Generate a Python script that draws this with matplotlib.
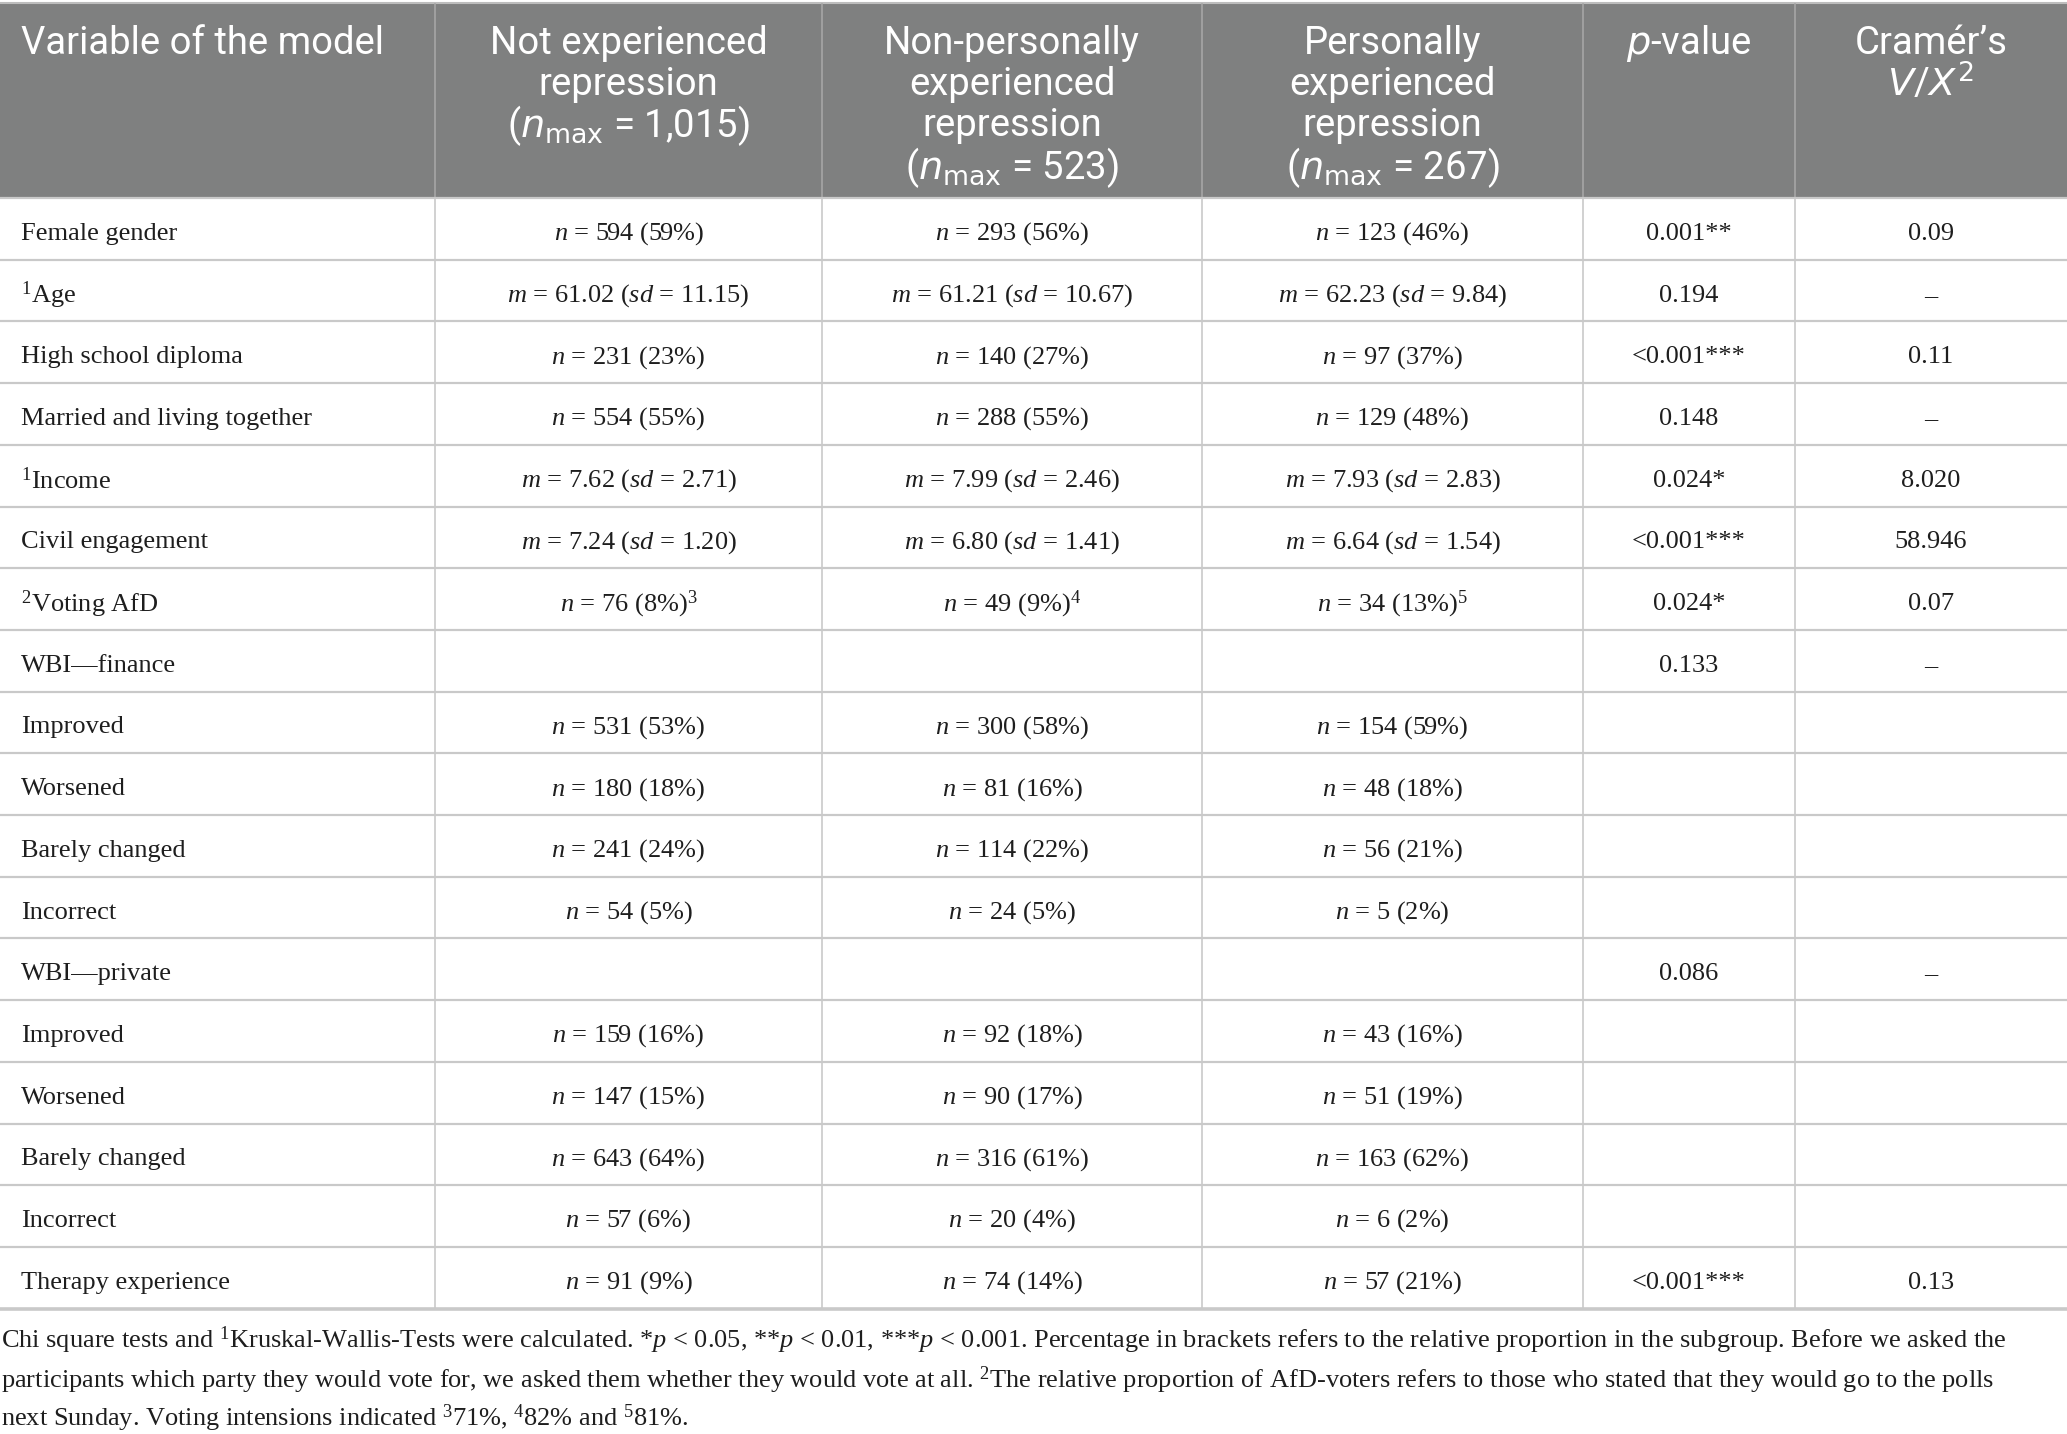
import matplotlib
matplotlib.use("Agg")
import matplotlib.pyplot as plt
from matplotlib.patches import Rectangle

plt.rcParams['mathtext.fontset'] = 'custom'
plt.rcParams['mathtext.rm'] = 'Liberation Serif'
plt.rcParams['mathtext.it'] = 'Liberation Serif:italic'
plt.rcParams['mathtext.bf'] = 'Liberation Serif:bold'

# ---------------- data ----------------
header_col0 = ["Variable of the model"]
header_not = ["Not experienced", "repression", r"($n_{\mathrm{max}}$ = 1,015)"]
header_non = ["Non-personally", "experienced", "repression", r"($n_{\mathrm{max}}$ = 523)"]
header_pers = ["Personally", "experienced", "repression", r"($n_{\mathrm{max}}$ = 267)"]
header_p = [r"$p$-value"]
header_v = ["Cramér’s", r"$V$/$X^{2}$"]

variables = [
    "Female gender", r"$^{1}$Age", "High school diploma", "Married and living together",
    r"$^{1}$Income", "Civil engagement", r"$^{2}$Voting AfD", "WBI—finance",
    "Improved", "Worsened", "Barely changed", "Incorrect",
    "WBI—private", "Improved", "Worsened", "Barely changed", "Incorrect",
    "Therapy experience",
]
not_experienced = [
    r"$n$ = 594 (59%)", r"$m$ = 61.02 ($sd$ = 11.15)", r"$n$ = 231 (23%)", r"$n$ = 554 (55%)",
    r"$m$ = 7.62 ($sd$ = 2.71)", r"$m$ = 7.24 ($sd$ = 1.20)", r"$n$ = 76 (8%)$^{3}$", "",
    r"$n$ = 531 (53%)", r"$n$ = 180 (18%)", r"$n$ = 241 (24%)", r"$n$ = 54 (5%)",
    "", r"$n$ = 159 (16%)", r"$n$ = 147 (15%)", r"$n$ = 643 (64%)", r"$n$ = 57 (6%)",
    r"$n$ = 91 (9%)",
]
non_personally = [
    r"$n$ = 293 (56%)", r"$m$ = 61.21 ($sd$ = 10.67)", r"$n$ = 140 (27%)", r"$n$ = 288 (55%)",
    r"$m$ = 7.99 ($sd$ = 2.46)", r"$m$ = 6.80 ($sd$ = 1.41)", r"$n$ = 49 (9%)$^{4}$", "",
    r"$n$ = 300 (58%)", r"$n$ = 81 (16%)", r"$n$ = 114 (22%)", r"$n$ = 24 (5%)",
    "", r"$n$ = 92 (18%)", r"$n$ = 90 (17%)", r"$n$ = 316 (61%)", r"$n$ = 20 (4%)",
    r"$n$ = 74 (14%)",
]
personally = [
    r"$n$ = 123 (46%)", r"$m$ = 62.23 ($sd$ = 9.84)", r"$n$ = 97 (37%)", r"$n$ = 129 (48%)",
    r"$m$ = 7.93 ($sd$ = 2.83)", r"$m$ = 6.64 ($sd$ = 1.54)", r"$n$ = 34 (13%)$^{5}$", "",
    r"$n$ = 154 (59%)", r"$n$ = 48 (18%)", r"$n$ = 56 (21%)", r"$n$ = 5 (2%)",
    "", r"$n$ = 43 (16%)", r"$n$ = 51 (19%)", r"$n$ = 163 (62%)", r"$n$ = 6 (2%)",
    r"$n$ = 57 (21%)",
]
p_values = [
    "0.001**", "0.194", "<0.001***", "0.148", "0.024*", "<0.001***", "0.024*", "0.133",
    "", "", "", "", "0.086", "", "", "", "", "<0.001***",
]
cramers_v = [
    "0.09", "–", "0.11", "–", "8.020", "58.946", "0.07", "–",
    "", "", "", "", "–", "", "", "", "", "0.13",
]
footnote_lines = [
    r"Chi square tests and $^{1}$Kruskal-Wallis-Tests were calculated. *$p$ < 0.05, **$p$ < 0.01, ***$p$ < 0.001. Percentage in brackets refers to the relative proportion in the subgroup. Before we asked the",
    r"participants which party they would vote for, we asked them whether they would vote at all. $^{2}$The relative proportion of AfD-voters refers to those who stated that they would go to the polls",
    r"next Sunday. Voting intensions indicated $^{3}$71%, $^{4}$82% and $^{5}$81%.",
]

# ---------------- layout ----------------
W, H = 2067, 1434
fig = plt.figure(figsize=(W / 100, H / 100), dpi=100)
ax = fig.add_axes([0, 0, 1, 1])
ax.set_xlim(0, W)
ax.set_ylim(H, 0)
ax.axis('off')

col_edges = [0, 435, 822, 1202, 1583, 1795, W]
head_top, head_bot = 4, 198
n_rows = len(variables)
row_h = 61.7
table_bot = head_bot + n_rows * row_h

header_bg = '#7f8080'
grid_col = '#c9c9c9'
text_col = '#1e1e1e'
head_font = ['Roboto', 'DejaVu Sans']
body_font = ['Liberation Serif', 'DejaVu Serif']
head_fs = 27.5
body_fs = 19
foot_fs = 19

ax.add_patch(Rectangle((0, head_top), W, head_bot - head_top, facecolor=header_bg,
                       edgecolor='none', zorder=1))
ax.plot([0, W], [head_top - 1, head_top - 1], color='#bdbdbd', lw=1.5, zorder=2)

# header verticals
for x in col_edges[1:-1]:
    ax.plot([x, x], [head_top, head_bot], color='#a6a6a6', lw=1.2, zorder=2)
    ax.plot([x, x], [head_bot, table_bot], color=grid_col, lw=1.2, zorder=2)

# horizontal lines
for i in range(n_rows + 1):
    y = head_bot + i * row_h
    lw = 2.6 if i == n_rows else 1.6
    ax.plot([0, W], [y, y], color=grid_col, lw=lw, zorder=2)

# header text
headers = [header_col0, header_not, header_non, header_pers, header_p, header_v]
line_sp = 41.5
first_line = 43
for c, lines in enumerate(headers):
    for k, s in enumerate(lines):
        y = first_line + k * line_sp
        if c == 0:
            x, ha = col_edges[0] + 21, 'left'
        else:
            x, ha = (col_edges[c] + col_edges[c + 1]) / 2, 'center'
        ax.text(x, y, s, ha=ha, va='center', color='white', fontsize=head_fs,
                family=head_font, fontweight='normal', math_fontfamily='dejavusans',
                zorder=3)

# body text
columns = [variables, not_experienced, non_personally, personally, p_values, cramers_v]
for c, col in enumerate(columns):
    for i, s in enumerate(col):
        if not s:
            continue
        y = head_bot + (i + 0.5) * row_h + 5
        if c == 0:
            x, ha = col_edges[0] + 21, 'left'
        else:
            x, ha = (col_edges[c] + col_edges[c + 1]) / 2, 'center'
        ax.text(x, y, s, ha=ha, va='center', color=text_col, fontsize=body_fs,
                family=body_font, zorder=3)

# footnote
foot_y = [1340, 1380, 1418]
for s, y in zip(footnote_lines, foot_y):
    ax.text(1, y, s, ha='left', va='center', color=text_col, fontsize=foot_fs,
            family=body_font, zorder=3)

fig.savefig('out.png', dpi=100, facecolor='white')
